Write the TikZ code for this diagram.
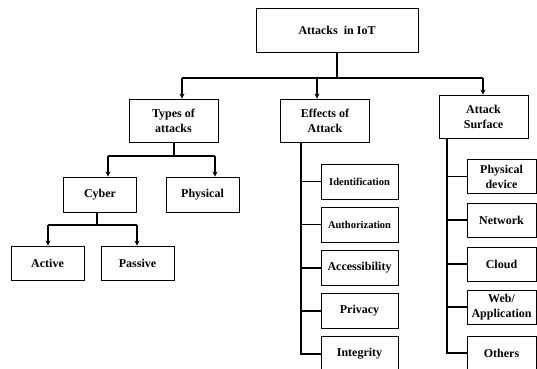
\documentclass[tikz,border=0pt]{standalone}
\usepackage{fontspec}
\setmainfont{Liberation Serif}
\usetikzlibrary{arrows.meta}
\begin{document}
\begin{tikzpicture}[x=1pt,y=-1pt,
  box/.style={draw,line width=0.9pt,align=center,inner sep=0pt,
    font=\bfseries\fontsize{12}{15}\selectfont},
  topbox/.style={box,minimum width=162pt,minimum height=44pt},
  midbox/.style={box,minimum width=89pt,minimum height=43pt},
  leafbox/.style={box,minimum width=73pt,minimum height=35pt},
  effbox/.style={box,minimum width=77pt,minimum height=35pt},
  surfbox/.style={box,minimum width=69pt,minimum height=34pt},
  link/.style={line width=1.5pt},
  arr/.style={link,-{Stealth[length=5pt,width=5pt]}}]
  \useasboundingbox (0,0) rectangle (537,368);
  \clip (0,0) rectangle (537,368);

  % Coordinates
  \coordinate (R) at (337,78);
  \coordinate (RA) at (182,78);
  \coordinate (RB) at (317,78);
  \coordinate (RC) at (483,78);
  \coordinate (T) at (174,156);
  \coordinate (TA) at (108,156);
  \coordinate (TB) at (215,156);
  \coordinate (C) at (97,225);
  \coordinate (CA) at (48,225);
  \coordinate (CB) at (137,225);
  \coordinate (E) at (301,142);
  \coordinate (S) at (447,138);

  % Nodes
  \node[topbox] (iot) at (337,30) {Attacks~~in IoT};
  \node[midbox] (types) at (173.5,120.5) {Types of\\attacks};
  \node[midbox] (effects) at (325,120.5) {Effects of\\Attack};
  \node[midbox] (surface) at (483.5,116.5) {Attack\\Surface};
  \node[leafbox] (cyber) at (100,194.5) {Cyber};
  \node[leafbox] (physical) at (202.5,194.5) {Physical};
  \node[leafbox,minimum height=34pt] (active) at (47.5,263) {Active};
  \node[leafbox,minimum height=34pt] (passive) at (137.5,263) {Passive};

  \node[effbox,font=\bfseries\fontsize{10.5}{13}\selectfont] (ident) at (359.5,181.5) {Identification};
  \node[effbox,font=\bfseries\fontsize{10.5}{13}\selectfont] (auth) at (359.5,224.5) {Authorization};
  \node[effbox] (access) at (359.5,268) {Accessibility};
  \node[effbox] (privacy) at (359.5,311) {Privacy};
  \node[effbox] (integrity) at (359.5,354) {Integrity};

  \node[surfbox] (device) at (501.5,176.5) {Physical\\device};
  \node[surfbox] (network) at (501.5,220) {Network};
  \node[surfbox] (cloud) at (501.5,264) {Cloud};
  \node[surfbox] (web) at (501.5,307) {Web/\\Application};
  \node[surfbox] (others) at (501.5,353) {Others};

  % Drawing
  \draw[link] (iot.south) -- (R);
  \draw[link] (RA) -- (RC);
  \draw[arr] (RA) -- (RA |- types.north);
  \draw[arr] (RB) -- (RB |- effects.north);
  \draw[arr] (RC) -- (RC |- surface.north);

  \draw[link] (T |- types.south) -- (T);
  \draw[link] (TA) -- (TB);
  \draw[arr] (TA) -- (TA |- cyber.north);
  \draw[arr] (TB) -- (TB |- physical.north);

  \draw[link] (C |- cyber.south) -- (C);
  \draw[link] (CA) -- (CB);
  \draw[arr] (CA) -- (CA |- active.north);
  \draw[arr] (CB) -- (CB |- passive.north);

  \draw[link] (E) |- (integrity.west);
  \draw[link] (E |- ident.west) -- (ident.west);
  \draw[link] (E |- auth.west) -- (auth.west);
  \draw[link] (E |- access.west) -- (access.west);
  \draw[link] (E |- privacy.west) -- (privacy.west);

  \draw[link] (S) |- (others.west);
  \draw[link] (S |- device.west) -- (device.west);
  \draw[link] (S |- network.west) -- (network.west);
  \draw[link] (S |- cloud.west) -- (cloud.west);
  \draw[link] (S |- web.west) -- (web.west);
\end{tikzpicture}
\end{document}
